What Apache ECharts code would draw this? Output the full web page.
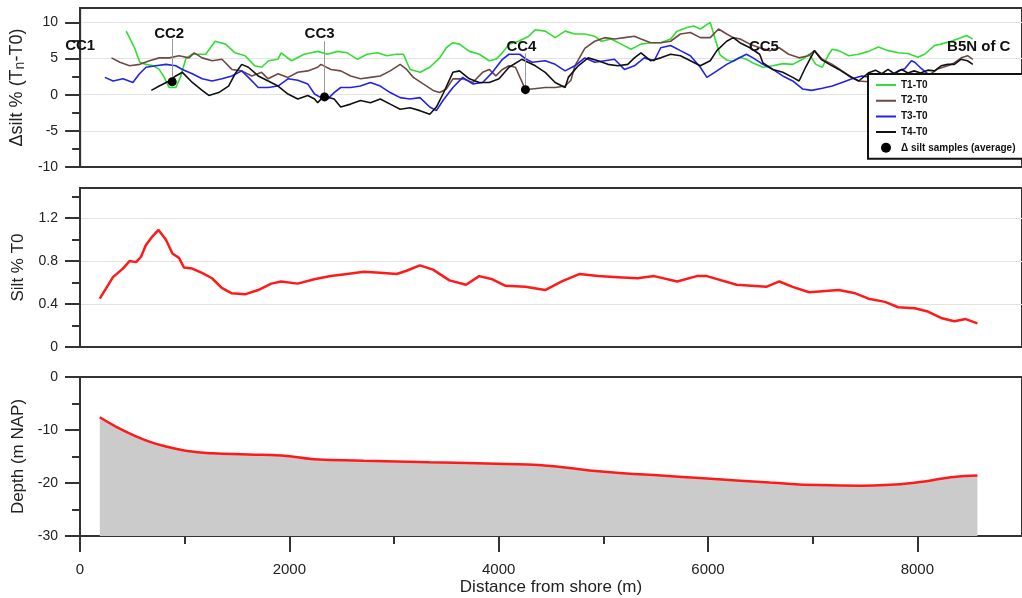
<!DOCTYPE html>
<html><head><meta charset="utf-8">
<script src="https://cdn.jsdelivr.net/npm/echarts@6/dist/echarts.min.js"></script>
<style>html,body{margin:0;padding:0;background:#fff}#c{width:1022px;height:598px}</style>
</head><body><div id="c"></div>
<script>
// ---------- DATA ----------
const t1X = [440,520,570,630,700,756,800,850,915,960,1010,1070,1200,1290,1390,1480,1576,1670,1734,1800,1890,1920,2020,2140,2206,2270,2364,2460,2553,2650,2742,2840,2931,3020,3089,3152,3250,3341,3436,3499,3562,3625,3720,3814,3909,3972,4035,4098,4190,4287,4350,4444,4539,4634,4728,4822,4917,4980,5075,5170,5264,5359,5453,5548,5642,5705,5800,5863,5926,6021,6068,6115,6178,6241,6304,6367,6430,6525,6619,6714,6809,6903,6966,7030,7092,7150,7187,7250,7345,7439,7534,7628,7723,7817,7911,8006,8069,8164,8227,8322,8416,8470,8530];
const t1Y = [8.8,6.5,4.5,4.2,4.0,3.5,2.5,1.0,1.0,2.5,5.0,5.6,5.6,7.4,7.0,5.8,5.4,4.0,3.8,4.7,4.9,5.8,4.7,5.6,5.8,6.0,5.6,6.0,5.8,4.9,5.6,5.8,5.4,5.6,5.6,3.5,3.1,3.8,5.1,6.5,7.2,7.0,6.0,5.6,4.7,4.9,5.8,7.0,7.4,8.1,9.0,8.8,7.9,8.8,8.4,8.4,8.1,7.4,7.7,7.0,6.3,7.0,7.2,7.2,7.7,8.8,9.3,9.5,9.1,10.0,7.7,5.5,4.8,4.6,5.2,4.9,4.4,3.8,4.0,4.3,4.2,4.9,5.6,4.2,3.8,5.5,6.3,6.1,5.4,5.6,6.0,6.6,6.1,5.8,5.7,5.2,5.6,6.8,7.0,7.4,7.9,8.2,7.7];

const t2X = [300,380,473,570,662,756,851,945,1040,1090,1166,1261,1355,1450,1544,1640,1734,1797,1891,1986,2080,2175,2270,2301,2396,2490,2585,2679,2774,2868,2963,3058,3120,3184,3278,3373,3436,3499,3562,3656,3751,3846,3909,3972,4035,4098,4160,4255,4318,4444,4539,4634,4690,4728,4822,4917,5012,5106,5201,5296,5359,5453,5548,5642,5736,5831,5926,6021,6100,6178,6241,6307,6400,6493,6590,6680,6770,6870,6960,7017,7090,7187,7281,7376,7440,7530,7650,7800,7950,8100,8200,8290,8353,8420,8480,8530];
const t2Y = [5.1,4.5,4.0,4.2,4.7,5.1,5.1,5.4,5.1,5.8,5.1,4.7,4.9,3.5,3.3,2.6,3.1,2.2,2.9,2.4,3.1,3.3,3.8,4.2,3.5,3.3,2.6,2.2,2.4,2.6,3.3,4.2,3.5,2.4,1.5,0.6,0.3,0.8,2.2,2.2,1.7,3.1,3.5,2.6,3.5,4.0,3.8,0.7,0.8,1.0,1.0,1.2,2.0,4.0,6.4,7.4,7.9,7.7,7.9,8.1,7.7,7.2,7.2,7.4,8.4,8.6,7.9,7.9,9.1,8.4,7.9,7.7,7.0,6.5,6.1,6.5,5.6,5.1,5.4,6.1,4.9,4.2,3.3,2.4,1.9,1.8,1.5,1.8,2.2,2.6,3.6,4.0,4.4,5.1,5.4,4.9];

const t3X = [236,315,410,504,567,630,725,820,914,977,1072,1166,1261,1355,1450,1544,1608,1702,1797,1891,1986,2080,2175,2240,2301,2364,2427,2490,2585,2679,2774,2868,2963,3058,3152,3247,3341,3404,3467,3562,3656,3751,3846,3940,4035,4098,4200,4255,4318,4444,4539,4634,4728,4822,4917,5012,5106,5201,5296,5390,5485,5548,5642,5736,5831,5926,5989,6085,6178,6273,6367,6430,6525,6619,6714,6809,6903,6990,7092,7187,7281,7376,7470,7560,7660,7760,7817,7880,7943,7975,8040,8100,8200,8300,8420];
const t3Y = [2.4,1.9,2.2,1.7,2.9,3.8,4.0,4.2,4.0,3.5,2.9,2.2,1.9,2.2,2.6,3.3,2.4,1.0,1.0,1.2,2.2,2.0,1.5,0.1,-0.4,-0.6,0.3,1.0,1.0,1.2,1.7,1.2,0.3,-0.4,-0.6,-0.4,-1.7,-2.2,-0.8,1.0,2.4,1.5,1.7,3.1,4.9,5.6,5.6,5.0,4.5,4.7,4.2,3.3,4.0,5.1,4.5,4.7,4.9,3.5,4.0,5.1,4.7,6.5,6.8,6.1,5.4,3.8,2.4,3.3,4.2,4.9,5.6,5.1,4.2,3.5,2.6,1.9,0.8,0.6,0.9,1.2,1.7,2.2,2.6,2.4,2.2,2.8,3.3,3.6,4.7,4.5,3.6,2.9,2.0,1.5,1.2];

const t4X = [680,756,851,914,977,1072,1166,1230,1324,1418,1481,1544,1608,1702,1797,1891,1986,2080,2175,2240,2270,2330,2427,2490,2585,2679,2774,2868,2963,3058,3152,3247,3341,3404,3467,3562,3625,3719,3814,3909,4003,4098,4220,4350,4444,4539,4634,4665,4760,4854,4949,5043,5138,5233,5296,5359,5453,5548,5642,5736,5831,5926,6021,6084,6178,6241,6304,6400,6493,6525,6619,6714,6809,6870,6932,7017,7080,7160,7250,7345,7440,7530,7600,7660,7720,7780,7850,7910,7970,8030,8100,8164,8227,8290,8353,8416,8479,8530];
const t4Y = [0.6,1.2,1.9,2.6,3.1,1.7,0.6,-0.1,0.3,1.2,2.9,4.2,3.8,2.6,1.9,1.2,0.1,-0.6,-0.1,-0.6,-1.1,-0.2,-0.6,-1.7,-1.3,-0.8,-1.1,-0.6,-1.3,-2.0,-1.8,-2.2,-2.7,-1.7,0.1,3.1,3.3,2.2,1.7,1.7,2.2,3.8,4.9,4.0,3.1,1.7,1.0,2.4,4.0,5.1,4.7,4.2,4.0,4.2,5.1,5.8,4.7,5.1,5.6,5.4,4.7,4.0,4.7,6.1,7.4,7.9,7.2,6.5,5.6,4.4,3.5,3.1,2.4,1.9,3.8,6.1,4.9,4.2,3.5,2.6,1.9,3.0,3.4,2.9,3.5,2.9,3.5,3.0,3.3,3.0,3.4,3.3,4.0,4.2,4.2,4.9,4.7,4.2];

const sampleX = [880, 2335, 4255];
const sampleY = [1.8, -0.3, 0.7];
const connectorTop = [7.7, 7.4, 5.7];

const siteNames = ['CC1','CC2','CC3','CC4','CC5','B5N of C'];
const siteX = [0, 851, 2288, 4217, 6534, 8284];
const siteY = [6.8, 8.4, 8.4, 6.6, 6.6, 6.6];

const silt0X = [189,315,410,473,536,583,630,693,750,820,883,946,993,1072,1166,1261,1355,1450,1576,1702,1828,1922,2080,2238,2396,2553,2711,2868,3026,3120,3247,3373,3530,3688,3814,3940,4066,4255,4444,4603,4775,4948,5138,5327,5485,5705,5894,5989,6273,6556,6682,6809,6966,7092,7250,7408,7534,7691,7817,7975,8101,8227,8353,8463,8574];
const silt0Y = [0.45,0.65,0.73,0.80,0.79,0.84,0.95,1.03,1.09,1.00,0.87,0.83,0.74,0.73,0.69,0.64,0.55,0.50,0.49,0.53,0.59,0.61,0.59,0.63,0.66,0.68,0.70,0.69,0.68,0.71,0.76,0.72,0.62,0.58,0.66,0.63,0.57,0.56,0.53,0.61,0.68,0.66,0.65,0.64,0.66,0.61,0.66,0.66,0.58,0.56,0.61,0.56,0.51,0.52,0.53,0.50,0.45,0.42,0.37,0.36,0.33,0.27,0.24,0.26,0.22];

const depthX = [189,347,504,662,820,1009,1261,1608,1922,2238,2711,3341,4066,4381,5012,5485,5957,6588,7062,7470,7691,8069,8321,8574];
const depthY = [-7.6,-9.4,-10.9,-12.2,-13.1,-13.9,-14.4,-14.6,-14.8,-15.5,-15.8,-16.1,-16.4,-16.6,-17.9,-18.5,-19.1,-19.9,-20.4,-20.5,-20.4,-19.7,-18.9,-18.6];

const xTicksMajor = [0,2000,4000,6000,8000];
const xTicksMinor = [1000,3000,5000,7000];
const y1Major = [-10,-5,0,5,10], y1Minor = [-7.5,-2.5,2.5,7.5];
const y2Major = [0,0.4,0.8,1.2], y2Minor = [0.2,0.6,1.0,1.4];
const y3Major = [-30,-20,-10,0], y3Minor = [-25,-15,-5];

// ---------- CHART ----------
const zip = (a,b) => a.map((v,i)=>[v,b[i]]);
const FONT = '"Liberation Sans", Arial, sans-serif';
const AX = '#333';
const chart = echarts.init(document.getElementById('c'), null, {renderer:'canvas'});

function gridDef(top){
  return {left:80, top:top, height:159, right:-10, show:true, borderColor:AX, borderWidth:2, backgroundColor:'rgba(0,0,0,0)'};
}
function xAx(gi, showTicks){
  return {type:'value', gridIndex:gi, min:0, max:9000, interval:2000, position:'bottom',
    axisLine:{show:true, onZero:false, lineStyle:{color:AX, width:2}},
    axisTick:{show:showTicks, customValues:xTicksMajor, length:16, lineStyle:{color:AX, width:2}},
    axisLabel:{show:showTicks, customValues:xTicksMajor, margin:26, fontSize:15, color:'#222', fontFamily:FONT,
      formatter:(v)=>String(v)},
    splitLine:{show:false}};
}
function yMajor(gi, min, max, interval, major, name, nameExtra){
  return Object.assign({type:'value', gridIndex:gi, min:min, max:max, interval:interval, position:'left',
    axisLine:{show:true, onZero:false, lineStyle:{color:AX, width:2}},
    axisTick:{show:true, customValues:major, length:15, lineStyle:{color:AX, width:2}},
    axisLabel:{customValues:major, margin:22, fontSize:14, color:'#222', fontFamily:FONT, formatter:(v)=>String(v)},
    splitLine:{show:true, lineStyle:{color:'#e3e3e3', width:1}},
    name:name, nameLocation:'middle', nameGap:53,
    nameTextStyle:{fontSize:17, color:'#222', fontFamily:FONT}}, nameExtra||{});
}
function yMinor(gi, min, max, minor){
  return {type:'value', gridIndex:gi, min:min, max:max, position:'left', offset:0,
    axisLine:{show:false, onZero:false}, axisLabel:{show:false}, splitLine:{show:false},
    axisTick:{show:true, customValues:minor, length:8, lineStyle:{color:AX, width:2}}};
}

const LINE_ICON = 'path://M0,0L0.01,0L0.01,10L0,10Z M0,4L20,4L20,6L0,6Z';
const lineSeries = (name, x, y, color) => ({
  name:name, type:'line', xAxisIndex:0, yAxisIndex:0, data:zip(x,y),
  symbol:'none', showSymbol:false, lineStyle:{color:color, width:1.6}, itemStyle:{color:color}, z:3
});

const siteData = siteNames.map((n,i)=>({name:n, value:[siteX[i], siteY[i]],
  label: i===siteNames.length-1 ? {align:'left'} : {}}));

const option = {
  animation:false,
  backgroundColor:'#fff',
  textStyle:{fontFamily:FONT},
  grid:[gridDef(8), gridDef(188), gridDef(377)],
  xAxis:[xAx(0,false), xAx(1,false),
    Object.assign(xAx(2,true), {name:'Distance from shore (m)', nameLocation:'middle', nameGap:43,
      nameTextStyle:{fontSize:17, color:'#222', fontFamily:FONT}}),
    {type:'value', gridIndex:2, min:0, max:9000, position:'bottom', offset:0,
      axisLine:{show:false, onZero:false}, axisLabel:{show:false}, splitLine:{show:false},
      axisTick:{show:true, customValues:xTicksMinor, length:8, lineStyle:{color:AX, width:2}}}
  ],
  yAxis:[
    yMajor(0,-10,12,5,y1Major,'\u0394silt % (T{sub|n}-T0)',
      {nameTextStyle:{fontSize:18, color:'#222', fontFamily:FONT,
        rich:{sub:{fontSize:14, verticalAlign:'bottom', color:'#222', fontFamily:FONT, padding:[6,0,0,0]}}}}),
    yMinor(0,-10,12,y1Minor),
    yMajor(1,0,1.48,0.4,y2Major,'Silt % T0'),
    yMinor(1,0,1.48,y2Minor),
    Object.assign(yMajor(2,-30,0,10,y3Major,'Depth (m NAP)'), {splitLine:{show:false}}),
    yMinor(2,-30,0,y3Minor)
  ],
  legend:{
    left:868, top:74, orient:'vertical', z:20,
    backgroundColor:'#fff', borderColor:'#111', borderWidth:2,
    padding:[6,40,6,8], itemWidth:20, itemHeight:10, itemGap:5.7,
    textStyle:{fontSize:10, fontWeight:'bold', color:'#111', fontFamily:FONT},
    data:[{name:'T1-T0', icon:LINE_ICON},{name:'T2-T0', icon:LINE_ICON},{name:'T3-T0', icon:LINE_ICON},
      {name:'T4-T0', icon:LINE_ICON},{name:'\u0394 silt samples (average)', icon:'circle', itemStyle:{opacity:1}}]
  },
  series:[
    lineSeries('T1-T0', t1X, t1Y, '#33dd33'),
    lineSeries('T2-T0', t2X, t2Y, '#6e4a44'),
    lineSeries('T3-T0', t3X, t3Y, '#2222ee'),
    lineSeries('T4-T0', t4X, t4Y, '#111111'),
    {name:'\u0394 silt samples (average)', type:'scatter', xAxisIndex:0, yAxisIndex:0,
      data:zip(sampleX, sampleY), symbolSize:9, itemStyle:{color:'#000', opacity:1}, z:5,
      markLine:{silent:true, symbol:'none', animation:false,
        lineStyle:{color:'#9a9a9a', width:1, type:'solid'}, label:{show:false},
        data: sampleX.map((x,i)=>[{coord:[x, connectorTop[i]]},{coord:[x, sampleY[i]]}])}},
    {name:'sites', type:'scatter', xAxisIndex:0, yAxisIndex:0, data:siteData, symbolSize:0, clip:false, z:6,
      itemStyle:{opacity:1},
      label:{show:true, position:'inside', formatter:'{b}', fontSize:15, fontWeight:'bold', color:'#111', fontFamily:FONT}},
    {name:'Silt T0', type:'line', xAxisIndex:1, yAxisIndex:2, data:zip(silt0X, silt0Y), symbol:'none',
      lineStyle:{color:'#ff1a1a', width:2.5}},
    {name:'Depth', type:'line', xAxisIndex:2, yAxisIndex:4, data:zip(depthX, depthY), symbol:'none', smooth:true,
      lineStyle:{color:'#ff1a1a', width:2.5}, areaStyle:{color:'#cbcbcb', opacity:1, origin:'start'}}
  ]
};
chart.setOption(option);
</script></body></html>
